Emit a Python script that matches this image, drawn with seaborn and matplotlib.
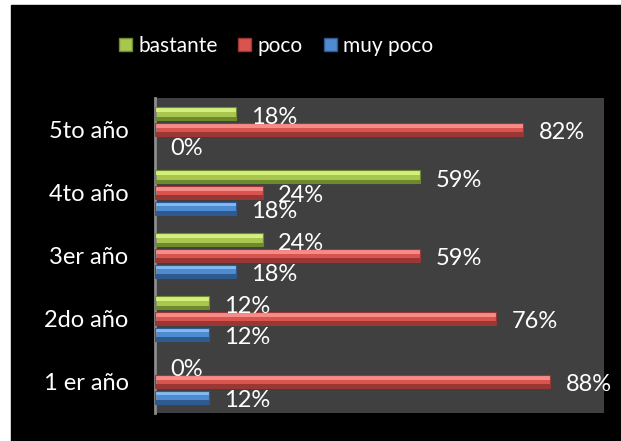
import matplotlib
matplotlib.use("Agg")
import matplotlib.pyplot as plt
from matplotlib.patches import Rectangle, Patch
import seaborn as sns
import pandas as pd

# ---- data ----
years = ["5to año", "4to año", "3er año", "2do año", "1 er año"]
levels = ["bastante", "poco", "muy poco"]
bastante = [18, 59, 24, 12, 0]
poco = [82, 24, 59, 76, 88]
muy_poco = [0, 18, 18, 12, 12]

# ---- styles ----
body = {"bastante": "#A9C74E", "poco": "#D9534F", "muy poco": "#4F8BD0"}
light = {"bastante": "#D3EF7E", "poco": "#F58C88", "muy poco": "#82B9F2"}
dark = {"bastante": "#6E8A2E", "poco": "#9A3734", "muy poco": "#2F5A90"}

plt.rcParams['font.family'] = ['Lato', 'DejaVu Sans']

rows = []
for lvl, vals in zip(levels, [bastante, poco, muy_poco]):
    for y, v in zip(years, vals):
        rows.append({"año": y, "nivel": lvl, "pct": v})
df = pd.DataFrame(rows)

W, H = 621, 441
fig = plt.figure(figsize=(W / 100, H / 100), dpi=100)
fig.patch.set_facecolor("white")
fig.add_artist(Rectangle((11 / W, 0), 1 - 11 / W, 1 - 5 / H,
                         transform=fig.transFigure, color="black", zorder=-10))

ax = fig.add_axes([155 / W, 1 - 413 / H, (604 - 155) / W, (413 - 98) / H])
ax.set_facecolor("#404040")

sns.barplot(data=df, y="año", x="pct", hue="nivel", order=years,
            hue_order=levels, palette=body, orient="h", width=0.74,
            gap=0.16, ax=ax, legend=False, saturation=1, edgecolor="none")

# bevel highlight/shadow stripes derived from the bar geometry
for cont, lvl in zip(ax.containers, levels):
    for p in cont:
        x0, y0, w, h = p.get_x(), p.get_y(), p.get_width(), p.get_height()
        if w <= 0:
            continue
        ax.add_patch(Rectangle((x0, y0), w, h * 0.35, color=light[lvl], lw=0, zorder=3))
        ax.add_patch(Rectangle((x0, y0 + h * 0.72), w, h * 0.28, color=dark[lvl], lw=0, zorder=3))
        ax.add_patch(Rectangle((x0, y0), w, h, fill=False, ec=dark[lvl], lw=0.8, zorder=4))
    anns = ax.bar_label(cont, labels=[f"{int(round(b.get_width()))}%" for b in cont],
                        padding=11, color="white", fontsize=17, zorder=6)
    for a in anns:
        a.xyann = (11, -2.5)

ax.set_xlim(0, 100)
ax.set_ylim(4.5, -0.5)
ax.set_xlabel("")
ax.set_ylabel("")
ax.set_xticks([])
ax.tick_params(axis="y", length=0, pad=19, labelsize=17, labelcolor="white")
for s in ["top", "right", "bottom"]:
    ax.spines[s].set_visible(False)
ax.spines["left"].set_color("#8C8C8C")
ax.spines["left"].set_linewidth(2)

handles = [Patch(facecolor=body[l], edgecolor=dark[l]) for l in levels]
fig.legend(handles, levels, loc="center", bbox_to_anchor=(276 / W, 1 - 46 / H),
           ncol=3, frameon=False, labelcolor="white", fontsize=15,
           handlelength=0.62, handleheight=0.62, handletextpad=0.3,
           columnspacing=1.0, borderpad=0)

fig.savefig("out.png", dpi=100, facecolor=fig.get_facecolor())
